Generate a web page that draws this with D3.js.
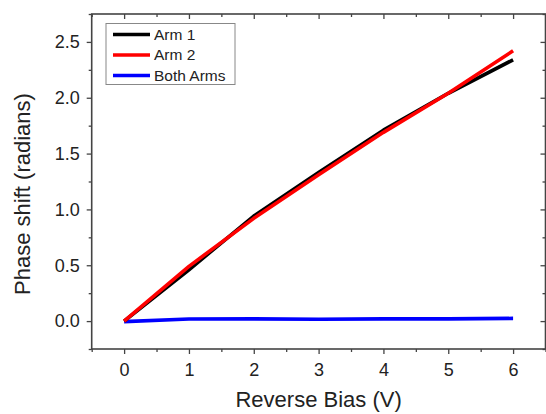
<!DOCTYPE html>
<html>
<head>
<meta charset="utf-8">
<script src="https://cdn.jsdelivr.net/npm/d3@7"></script>
<style>
  html, body { margin: 0; padding: 0; background: #fff; }
  svg { display: block; }
  text { font-family: "Liberation Sans", Arial, sans-serif; fill: #222; }
</style>
</head>
<body>
<svg id="chart" width="546" height="414"></svg>
<script>
const bias = [0, 1, 2, 3, 4, 5, 6];
const arm1 = [0.00, 0.46, 0.94, 1.33, 1.71, 2.04, 2.34];
const arm2 = [0.00, 0.49, 0.92, 1.31, 1.69, 2.04, 2.42];
const bothArms = [-0.005, 0.018, 0.02, 0.016, 0.02, 0.02, 0.024];
const seriesNames = ["Arm 1", "Arm 2", "Both Arms"];
const seriesColors = ["#000000", "#ff0000", "#0000ff"];
const xTicks = [0, 1, 2, 3, 4, 5, 6];
const yTicks = [0.0, 0.5, 1.0, 1.5, 2.0, 2.5];

const svg = d3.select("#chart");
const L = 91.7, R = 545.5, T = 14, B = 349;
const x = d3.scaleLinear().domain([-0.5, 6.5]).range([L, R]);
const y = d3.scaleLinear().domain([-0.25, 2.75]).range([B, T]);

const axisColor = "#444";
const xMinor = d3.range(-0.5, 6.51, 0.5).filter(v => Math.abs(v - Math.round(v)) > 1e-6);
const yMinor = d3.range(-0.25, 2.76, 0.25).filter(v => Math.abs(v * 2 - Math.round(v * 2)) > 1e-6);

function styleAxis(g) {
  g.select(".domain").remove();
  g.selectAll("line").attr("stroke", axisColor).attr("stroke-width", 1.3);
  g.selectAll("text").style("font-size", "18px").attr("fill", "#222");
}

// bottom axis
svg.append("g").attr("transform", `translate(0,${B})`)
  .call(d3.axisBottom(x).tickValues(xTicks).tickFormat(d3.format("d")).tickSize(5).tickPadding(9))
  .call(styleAxis);
svg.append("g").attr("transform", `translate(0,${B})`)
  .call(d3.axisBottom(x).tickValues(xMinor).tickFormat("").tickSize(3))
  .call(styleAxis);
// top axis (inward)
svg.append("g").attr("transform", `translate(0,${T})`)
  .call(d3.axisBottom(x).tickValues(xTicks).tickFormat("").tickSize(5))
  .call(styleAxis);
svg.append("g").attr("transform", `translate(0,${T})`)
  .call(d3.axisBottom(x).tickValues(xMinor).tickFormat("").tickSize(3))
  .call(styleAxis);
// left axis
svg.append("g").attr("transform", `translate(${L},0)`)
  .call(d3.axisLeft(y).tickValues(yTicks).tickFormat(d3.format(".1f")).tickSize(5).tickPadding(7))
  .call(styleAxis);
svg.append("g").attr("transform", `translate(${L},0)`)
  .call(d3.axisLeft(y).tickValues(yMinor).tickFormat("").tickSize(3))
  .call(styleAxis);
// right axis (inward)
svg.append("g").attr("transform", `translate(${R},0)`)
  .call(d3.axisLeft(y).tickValues(yTicks).tickFormat("").tickSize(5))
  .call(styleAxis);
svg.append("g").attr("transform", `translate(${R},0)`)
  .call(d3.axisLeft(y).tickValues(yMinor).tickFormat("").tickSize(3))
  .call(styleAxis);

// frame
svg.append("rect").attr("x", L).attr("y", T).attr("width", R - L).attr("height", B - T)
  .attr("fill", "none").attr("stroke", axisColor).attr("stroke-width", 1.6);

// lines
const allSeries = [arm1, arm2, bothArms];
const line = d3.line().x((d, i) => x(bias[i])).y(d => y(d));
[2, 0, 1].forEach(k => {
  svg.append("path").datum(allSeries[k])
    .attr("d", line)
    .attr("fill", "none")
    .attr("stroke", seriesColors[k])
    .attr("stroke-width", 3.6)
    .attr("stroke-linejoin", "round");
});

// legend
const lg = svg.append("g");
lg.append("rect").attr("x", 106).attr("y", 23.5).attr("width", 129).attr("height", 61)
  .attr("fill", "#fff").attr("stroke", "#888").attr("stroke-width", 1);
seriesNames.forEach((name, i) => {
  const yy = 34.5 + i * 20.5;
  lg.append("line").attr("x1", 113).attr("x2", 150).attr("y1", yy).attr("y2", yy)
    .attr("stroke", seriesColors[i]).attr("stroke-width", 3.6);
  lg.append("text").attr("x", 154).attr("y", yy).attr("dy", "0.35em")
    .style("font-size", "15.5px").text(name);
});

// axis titles
svg.append("text").attr("x", (L + R) / 2).attr("y", 407).attr("text-anchor", "middle")
  .style("font-size", "22px").text("Reverse Bias (V)");
svg.append("text").attr("transform", `translate(30,194) rotate(-90)`)
  .attr("text-anchor", "middle").style("font-size", "22px").text("Phase shift (radians)");
</script>
</body>
</html>
